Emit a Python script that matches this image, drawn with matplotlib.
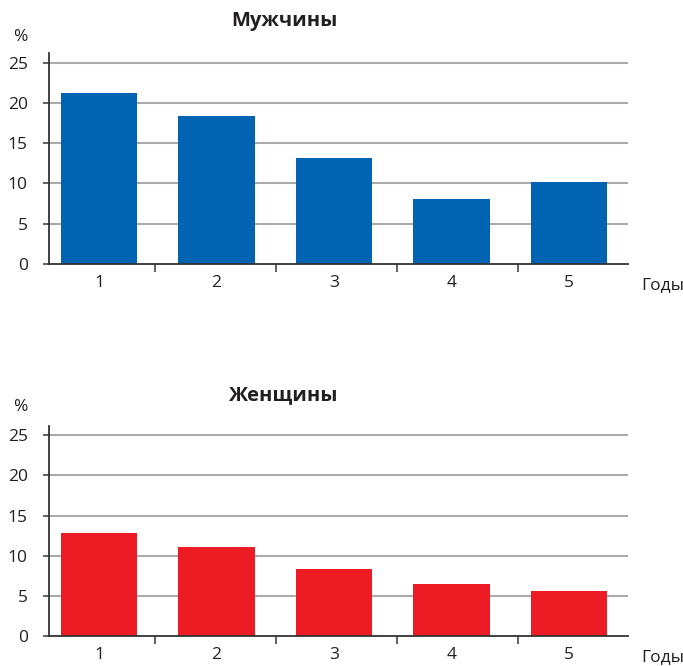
import numpy as np
import matplotlib
matplotlib.use("Agg")
import matplotlib.pyplot as plt

plt.rcParams['font.family'] = ['Open Sans', 'DejaVu Sans']

years = ["1", "2", "3", "4", "5"]
men = [21.2, 18.4, 13.2, 8.1, 10.2]
women = [12.8, 11.1, 8.3, 6.5, 5.6]
y_ticks = [0, 5, 10, 15, 20, 25]

titles = ["Мужчины", "Женщины"]
colors = ["#0064B2", "#ED1C24"]
x_unit = "Годы"
y_unit = "%"

W, H = 683, 666
fig = plt.figure(figsize=(W / 100, H / 100), dpi=100)

text_color = "#231F20"
grid_color = "#ABABAB"

# axes boxes in pixel coordinates: (left, top, right, bottom)
boxes = [(48.7, 53.3, 628, 264), (48.7, 426, 628, 636)]
title_y = [21, 395]
pct_y = [37, 407]

for i, (vals, box) in enumerate(zip([men, women], boxes)):
    l, t, r, b = box
    ax = fig.add_axes([l / W, 1 - b / H, (r - l) / W, (b - t) / H])
    x = np.arange(len(years))
    ax.bar(x, vals, width=0.647, color=colors[i], zorder=3)
    ax.set_xlim(-0.428, 4.502)
    ax.set_ylim(0, 26.15)
    ax.set_yticks(y_ticks)
    ax.set_yticklabels([str(v) for v in y_ticks])
    for v in y_ticks[1:]:
        ax.axhline(v, color=grid_color, lw=1.5, zorder=1)
    # major ticks mark category boundaries, minor ticks carry the labels
    ax.set_xticks(0.474 + 1.03 * np.arange(4))
    ax.set_xticklabels([])
    ax.set_xticks(x, minor=True)
    ax.set_xticklabels(years, minor=True)
    ax.tick_params(axis='x', which='major', direction='out', length=6,
                   width=1.3, color="#555555")
    ax.tick_params(axis='x', which='minor', length=0, pad=8,
                   labelsize=12.5, labelcolor=text_color)
    ax.tick_params(axis='y', direction='out', length=4.5, width=1.3,
                   color="#555555", pad=10.5, labelsize=12.5,
                   labelcolor=text_color)
    for s in ['top', 'right']:
        ax.spines[s].set_visible(False)
    for s in ['left', 'bottom']:
        ax.spines[s].set_color("#333333")
        ax.spines[s].set_linewidth(1.3)
        ax.spines[s].set_zorder(4)

    fig.text(284 / W, 1 - title_y[i] / H, titles[i], ha='center', va='center',
             fontsize=14.5, fontweight='bold', color=text_color)
    fig.text(20 / W, 1 - pct_y[i] / H, y_unit, ha='center', va='center',
             fontsize=12.5, color=text_color)
    fig.text(641 / W, 1 - (b + 21) / H, x_unit, ha='left', va='center',
             fontsize=12.5, color=text_color)

fig.savefig("out.png", dpi=100, facecolor="white")
